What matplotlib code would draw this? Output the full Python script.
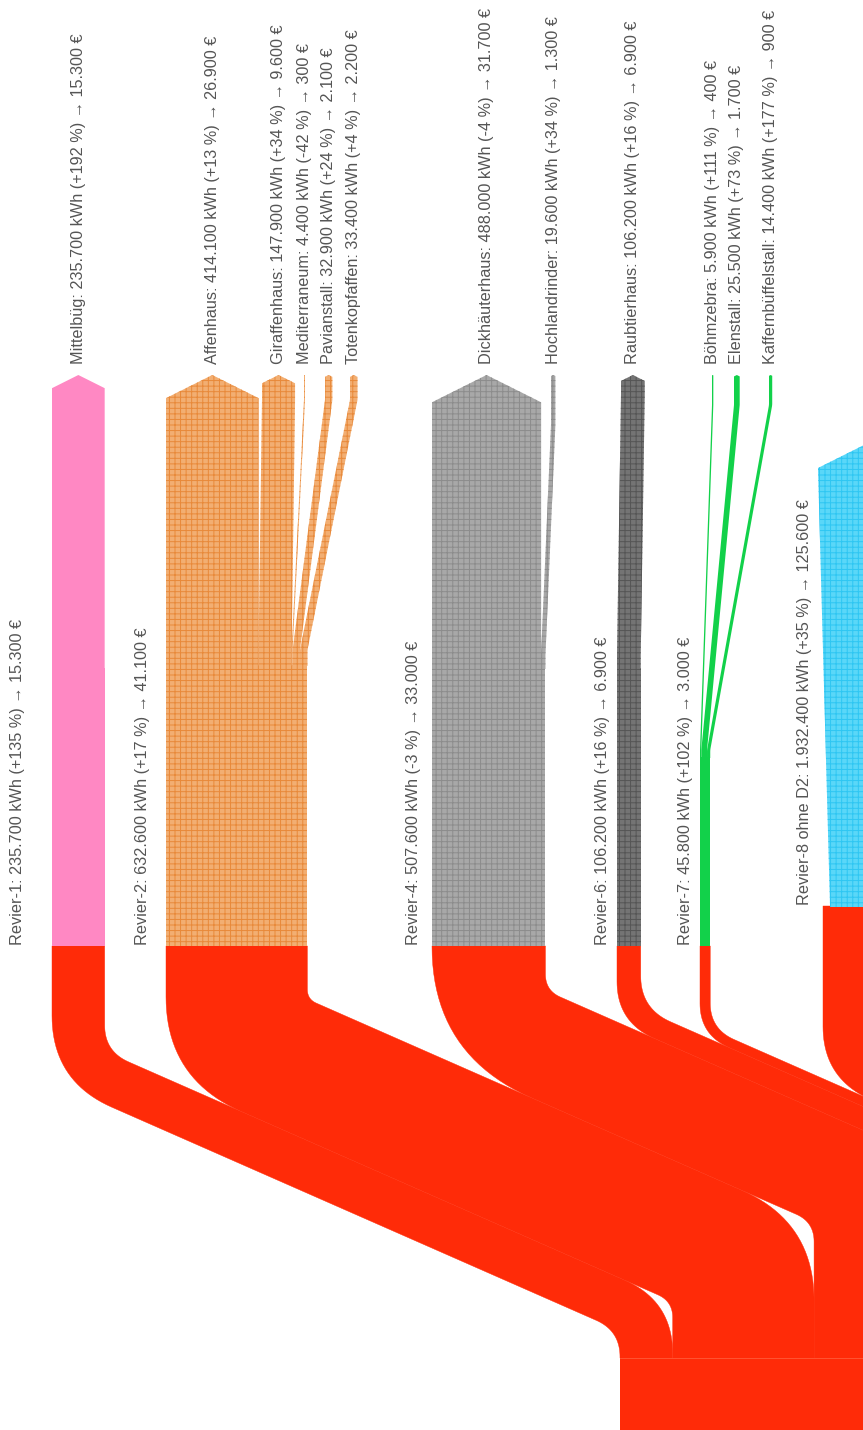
import numpy as np
import matplotlib.pyplot as plt
from matplotlib.patches import Polygon, Rectangle

plt.rcParams['hatch.linewidth'] = 0.7

# top row: buildings (kWh, change in %, cost in EUR)
sub_names = ['Mittelbüg', 'Affenhaus', 'Giraffenhaus', 'Mediterraneum', 'Pavianstall',
             'Totenkopfaffen', 'Dickhäuterhaus', 'Hochlandrinder', 'Raubtierhaus',
             'Böhmzebra', 'Elenstall', 'Kaffernbüffelstall']
sub_kwh = [235700, 414100, 147900, 4400, 32900, 33400, 488000, 19600, 106200, 5900, 25500, 14400]
sub_pct = ['+192', '+13', '+34', '-42', '+24', '+4', '-4', '+34', '+16', '+111', '+73', '+177']
sub_eur = [15300, 26900, 9600, 300, 2100, 2200, 31700, 1300, 6900, 400, 1700, 900]
sub_group = [0, 1, 1, 1, 1, 1, 2, 2, 3, 4, 4, 4]

# middle row: districts
rev_names = ['Revier-1', 'Revier-2', 'Revier-4', 'Revier-6', 'Revier-7', 'Revier-8 ohne D2']
rev_kwh = [235700, 632600, 507600, 106200, 45800, 1932400]
rev_pct = ['+135', '+17', '-3', '+16', '+102', '+35']
rev_eur = [15300, 41100, 33000, 6900, 3000, 125600]

# layout (pixels)
K = 0.2235 / 1000          # px per kWh
Y_TIP = 375
Y_TOT = 1358
TOT_X = 620
SLOPE = 0.44
B0 = 1058
sub_x = [52, 166, 262, 304, 325, 350, 432, 551, 621, 712, 734, 769]
rev_x = [52, 166, 432, 617, 700, 823]
rev_y = [946, 946, 946, 946, 946, 906]
grp_bend = [(400, 650, 668), (400, 650, 665), (425, 655, 668), (395, 655, 668), (405, 750, 757)]
rev_lab_x = [25, 150, 421, 610, 693, 812]
r_top_in = [40, 15, 25, 50, 40, 0]
r_top_out = [100, 125, 165, 62, 48, 80]
r_bot_in = [40, 25, 30, 30, 30, 30]
r_bot_out = [80, 120, 110, 45, 38, 200]
R8_X0, R8_X1, R8_SH = 818, 830, 468

RED = '#FF2B08'
styles = [
    dict(facecolor='#FF88C3', edgecolor='none'),
    dict(facecolor='#F2AE72', edgecolor='#E8893A', hatch='+++'),
    dict(facecolor='#A8A8A8', edgecolor='#8C8C8C', hatch='+++'),
    dict(facecolor='#747474', edgecolor='#555555', hatch='+++'),
    dict(facecolor='#12D14A', edgecolor='none'),
    dict(facecolor='#5AD7F8', edgecolor='#2EC6F2', hatch='+++'),
]
TXT = dict(color='#555555', fontsize=11.7, family=['Liberation Sans', 'DejaVu Sans'],
           rotation=90, rotation_mode='anchor')


def fmt(v):
    return f'{v:,}'.replace(',', '.')


def rounded(pts, radii, n=24):
    clean = [np.asarray(pts[0], float)]
    rr = []
    for i, p in enumerate(pts[1:], 1):
        p = np.asarray(p, float)
        if np.hypot(*(p - clean[-1])) > 1e-6:
            clean.append(p)
            if i < len(pts) - 1:
                rr.append(radii[i - 1])
    out = [clean[0]]
    last = len(clean) - 1
    for i in range(1, last):
        a, b, c = clean[i - 1], clean[i], clean[i + 1]
        l1, l2 = np.hypot(*(b - a)), np.hypot(*(c - b))
        u1, u2 = (b - a) / l1, (c - b) / l2
        phi = np.arccos(np.clip(u1 @ u2, -1, 1))
        r = rr[i - 1] if i - 1 < len(rr) else 0
        if phi < 1e-4 or r <= 0:
            out.append(b)
            continue
        t = r * np.tan(phi / 2)
        t = min(t, l1 if i == 1 else l1 / 2, l2 if i == last - 1 else l2 / 2)
        p0, p2 = b - u1 * t, b + u2 * t
        s = np.linspace(0, 1, n)[:, None]
        out.extend((1 - s) ** 2 * p0 + 2 * s * (1 - s) * b + s ** 2 * p2)
    out.append(clean[-1])
    return np.array(out)


fig = plt.figure(figsize=(8.63, 14.30), dpi=100)
ax = fig.add_axes([0, 0, 1, 1])
ax.set_xlim(0, 863)
ax.set_ylim(1430, 0)
ax.axis('off')

# red links from districts to the total node
offsets = np.concatenate([[0], np.cumsum(rev_kwh)[:-1]]) * K
for i in reversed(range(len(rev_kwh))):
    w = rev_kwh[i] * K
    sx, ys = rev_x[i], rev_y[i]
    t = TOT_X + offsets[i]
    bl = B0 - offsets[i]
    bh = bl - w
    yl1 = max(bl + SLOPE * sx, ys + 1)
    yl2 = min(bl + SLOPE * t, Y_TOT - 1)
    yh1 = max(bh + SLOPE * (sx + w), ys + 1)
    yh2 = min(max(bh + SLOPE * (t + w), yh1), Y_TOT - 1)
    left = rounded([(sx, ys), (sx, yl1), (t, yl2), (t, Y_TOT)], [r_top_out[i], r_bot_in[i]])
    right = rounded([(sx + w, ys), (sx + w, yh1), (t + w, yh2), (t + w, Y_TOT)],
                    [r_top_in[i], r_bot_out[i]])
    ax.add_patch(Polygon(np.vstack([left, right[::-1]]), closed=True,
                         facecolor=RED, edgecolor=RED, lw=0.3))

# total node
ax.add_patch(Rectangle((TOT_X, Y_TOT), sum(rev_kwh) * K, 120, facecolor=RED, lw=0))
ax.plot([TOT_X, 863], [Y_TOT, Y_TOT], color='#FF5A3A', lw=0.6)

# district nodes
for g in range(5):
    w = rev_kwh[g] * K
    ym = grp_bend[g][2]
    ax.add_patch(Rectangle((rev_x[g], ym), w, rev_y[g] - ym, lw=0, **styles[g]))

# building nodes with their flows into the districts
pos = {g: rev_x[g] for g in range(5)}
for j, kwh in enumerate(sub_kwh):
    g = sub_group[j]
    w = kwh * K
    x0, x1 = sub_x[j], pos[g]
    pos[g] += w
    ya, yb, ym = grp_bend[g]
    ysh = Y_TIP + w / 4
    left = rounded([(x0, ysh), (x0, ya), (x1, yb), (x1, ym + 1)], [20, 20])
    right = rounded([(x0 + w, ysh), (x0 + w, ya), (x1 + w, yb), (x1 + w, ym + 1)], [20, 20])
    poly = np.vstack([[(x0 + w / 2, Y_TIP)], right, left[::-1]])
    ax.add_patch(Polygon(poly, closed=True, lw=0, **styles[g]))
    ax.text(x0 + w / 2, Y_TIP - 11,
            f'{sub_names[j]}: {fmt(kwh)} kWh ({sub_pct[j]} %) \u2192 {fmt(sub_eur[j])} \u20ac',
            ha='left', va='center', **TXT)

# Revier-8 feed (cyan), tip lies outside the picture
w8 = rev_kwh[5] * K
left = rounded([(R8_X0, R8_SH), (R8_X1, rev_y[5] - 1), (R8_X1, rev_y[5] + 1)], [10])
right = rounded([(R8_X0 + w8, R8_SH), (R8_X1 + w8, rev_y[5] - 1), (R8_X1 + w8, rev_y[5] + 1)], [10])
poly = np.vstack([[(R8_X0 + w8 / 2, R8_SH - w8 / 4)], right, left[::-1]])
ax.add_patch(Polygon(poly, closed=True, lw=0, **styles[5]))

# district labels
for i, name in enumerate(rev_names):
    ax.text(rev_lab_x[i], rev_y[i] - 1,
            f'{name}: {fmt(rev_kwh[i])} kWh ({rev_pct[i]} %) \u2192 {fmt(rev_eur[i])} \u20ac',
            ha='left', va='bottom', **TXT)

fig.savefig('out.png', dpi=100)
